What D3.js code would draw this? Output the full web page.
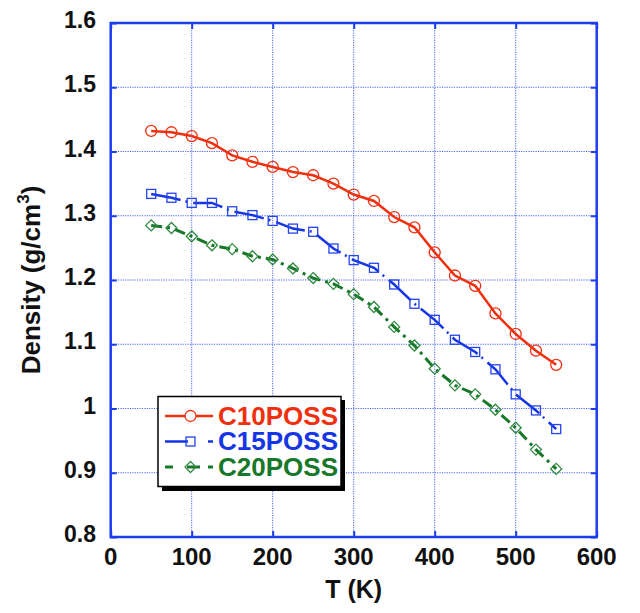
<!DOCTYPE html>
<html><head><meta charset="utf-8">
<script src="https://cdn.jsdelivr.net/npm/d3@7"></script>
<style>body{margin:0;background:#fff}svg{display:block}text{font-family:"Liberation Sans",Arial,Helvetica,sans-serif;font-weight:bold}</style>
</head><body>
<script>
const temps = [50,75,100,125,150,175,200,225,250,275,300,325,350,375,400,425,450,475,500,525,550];
const c10poss = [1.432,1.430,1.424,1.413,1.394,1.384,1.376,1.368,1.363,1.350,1.333,1.323,1.298,1.282,1.243,1.207,1.191,1.148,1.116,1.090,1.068];
const c15poss = [1.334,1.328,1.320,1.320,1.307,1.301,1.292,1.280,1.275,1.249,1.231,1.219,1.193,1.163,1.138,1.107,1.088,1.061,1.022,0.997,0.968];
const c20poss = [1.285,1.281,1.268,1.254,1.248,1.237,1.232,1.218,1.203,1.194,1.178,1.158,1.127,1.098,1.062,1.036,1.022,0.998,0.970,0.936,0.906];
const seriesNames = ["C10POSS","C15POSS","C20POSS"];
const xTicks = [0,100,200,300,400,500,600];
const yTicks = [0.8,0.9,1.0,1.1,1.2,1.3,1.4,1.5,1.6];
const yTickLabels = ["0.8","0.9","1","1.1","1.2","1.3","1.4","1.5","1.6"];

const W=640,H=613;
const svg=d3.select("body").append("svg").attr("width",W).attr("height",H);
const x=d3.scaleLinear().domain([0,600]).range([110.7,596.7]);
const y=d3.scaleLinear().domain([0.8,1.6]).range([537,23]);
const frameBlue="#1c3cf0", gridBlue="#4a64f4";
const colors=["#f0300f","#1535e6","#17782a"];

// grid
svg.append("g").selectAll("line").data(xTicks.slice(1,-1)).join("line")
  .attr("x1",d=>x(d)).attr("x2",d=>x(d)).attr("y1",y(1.6)).attr("y2",y(0.8))
  .attr("stroke",gridBlue).attr("stroke-width",1).attr("stroke-dasharray","1.2,1.2");
svg.append("g").selectAll("line").data(yTicks.slice(1,-1)).join("line")
  .attr("y1",d=>y(d)).attr("y2",d=>y(d)).attr("x1",x(0)).attr("x2",x(600))
  .attr("stroke",gridBlue).attr("stroke-width",1).attr("stroke-dasharray","1.2,1.2");

// axes (ticks inside, all four sides)
const tl=6;
function styleAxis(g){g.select(".domain").remove();g.selectAll(".tick line").attr("stroke",frameBlue).attr("stroke-width",2);g.selectAll("text").remove();}
svg.append("g").attr("transform",`translate(0,${y(0.8)})`).call(d3.axisBottom(x).tickValues(xTicks).tickSize(-tl)).call(styleAxis);
svg.append("g").attr("transform",`translate(0,${y(1.6)})`).call(d3.axisTop(x).tickValues(xTicks).tickSize(-tl)).call(styleAxis);
svg.append("g").attr("transform",`translate(${x(0)},0)`).call(d3.axisLeft(y).tickValues(yTicks).tickSize(-tl)).call(styleAxis);
svg.append("g").attr("transform",`translate(${x(600)},0)`).call(d3.axisRight(y).tickValues(yTicks).tickSize(-tl)).call(styleAxis);

// tick labels
svg.append("g").selectAll("text").data(xTicks).join("text")
  .attr("x",d=>x(d)).attr("y",565).attr("text-anchor","middle").attr("font-size",24).attr("fill","#111").text(d=>d);
svg.append("g").selectAll("text").data(yTicks).join("text")
  .attr("x",96).attr("y",d=>y(d)+5).attr("text-anchor","end").attr("font-size",23).attr("fill","#111")
  .text((d,i)=>yTickLabels[i]);

// axis titles
svg.append("text").attr("x",x(300)).attr("y",598).attr("text-anchor","middle").attr("font-size",25).attr("fill","#111").text("T (K)");
const yt=svg.append("text").attr("transform",`translate(40,${(y(0.8)+y(1.6))/2}) rotate(-90)`).attr("text-anchor","middle").attr("font-size",26).attr("fill","#111");
yt.append("tspan").text("Density (g/cm");
yt.append("tspan").attr("font-size",17).attr("dy",-11).text("3");
yt.append("tspan").attr("dy",11).text(")");

// series
const data=[c10poss,c15poss,c20poss];
const dashes=[null,"30,5,2,6","11,5,3,5"];
const widths=[2.5,2.5,3];
const line=d3.line().x((d,i)=>x(temps[i])).y(d=>y(d));
data.forEach((vals,k)=>{
  svg.append("path").datum(vals).attr("d",line).attr("fill","none").attr("stroke",colors[k])
    .attr("stroke-width",widths[k]).attr("stroke-dasharray",dashes[k]);
});
const markerColors=["#f0300f","#2444ee","#2f8a3e"];
function drawMarker(g,k,cx,cy){
  if(k===0) g.append("circle").attr("cx",cx).attr("cy",cy).attr("r",5.5);
  else if(k===1) g.append("rect").attr("x",cx-4.5).attr("y",cy-4.5).attr("width",9).attr("height",9);
  else g.append("path").attr("d",`M${cx},${cy-5.5}L${cx+5.5},${cy}L${cx},${cy+5.5}L${cx-5.5},${cy}Z`);
}
data.forEach((vals,k)=>{
  const g=svg.append("g").attr("fill","none").attr("stroke",markerColors[k]).attr("stroke-width",1.3);
  vals.forEach((v,i)=>drawMarker(g,k,x(temps[i]),y(v)));
});

// frame
svg.append("rect").attr("x",x(0)).attr("y",y(1.6)).attr("width",x(600)-x(0)).attr("height",y(0.8)-y(1.6))
  .attr("fill","none").attr("stroke",frameBlue).attr("stroke-width",2.5);

// legend
const lg=svg.append("g");
lg.append("rect").attr("x",162).attr("y",400).attr("width",183).attr("height",91).attr("fill","#000");
lg.append("rect").attr("x",158).attr("y",396.5).attr("width",183).attr("height",90).attr("fill","#fff").attr("stroke","#000").attr("stroke-width",1.5);
const rows=[416,441.5,467];
lg.append("line").attr("x1",165).attr("x2",213).attr("y1",rows[0]).attr("y2",rows[0]).attr("stroke",colors[0]).attr("stroke-width",2.5);
lg.append("line").attr("x1",165).attr("x2",188).attr("y1",rows[1]).attr("y2",rows[1]).attr("stroke",colors[1]).attr("stroke-width",2.5);
lg.append("line").attr("x1",208).attr("x2",213).attr("y1",rows[1]).attr("y2",rows[1]).attr("stroke",colors[1]).attr("stroke-width",2.5);
lg.append("line").attr("x1",165).attr("x2",173).attr("y1",rows[2]).attr("y2",rows[2]).attr("stroke",colors[2]).attr("stroke-width",3);
lg.append("line").attr("x1",187).attr("x2",200).attr("y1",rows[2]).attr("y2",rows[2]).attr("stroke",colors[2]).attr("stroke-width",3);
lg.append("line").attr("x1",208).attr("x2",213).attr("y1",rows[2]).attr("y2",rows[2]).attr("stroke",colors[2]).attr("stroke-width",3);
seriesNames.forEach((n,k)=>{
  const g=lg.append("g").attr("fill",k===0?"#fff":"none").attr("stroke",markerColors[k]).attr("stroke-width",1.3);
  drawMarker(g,k,190.5,rows[k]);
  lg.append("text").attr("x",218).attr("y",rows[k]+8.5).attr("font-size",25).attr("textLength",120).attr("lengthAdjust","spacingAndGlyphs")
    .attr("fill",colors[k]).text(n);
});
</script>
</body></html>
